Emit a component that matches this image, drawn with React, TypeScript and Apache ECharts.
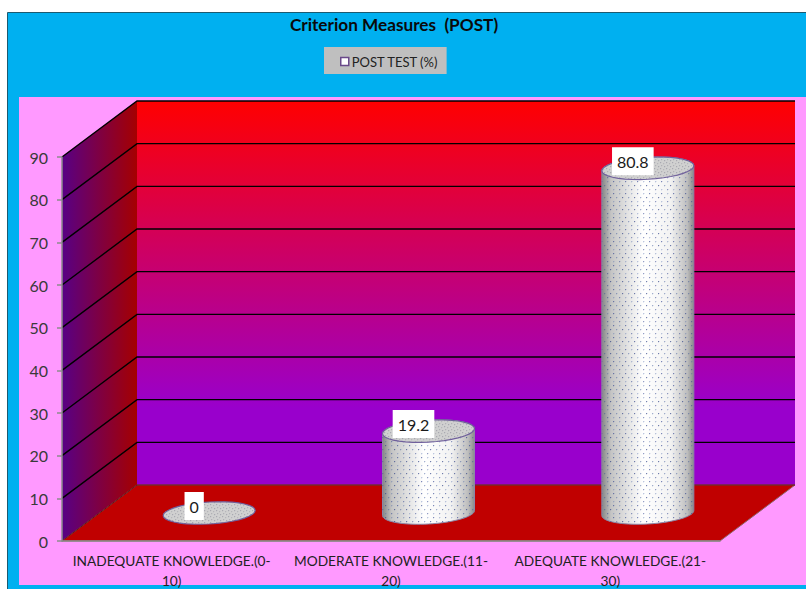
import React, { useEffect, useRef } from "react";
import * as echarts from "echarts";

const categories = [
  "INADEQUATE KNOWLEDGE.(0-\n10)",
  "MODERATE KNOWLEDGE.(11-\n20)",
  "ADEQUATE KNOWLEDGE.(21-\n30)",
];
const postTest = [0, 19.2, 80.8];
const valueTicks = [0, 10, 20, 30, 40, 50, 60, 70, 80, 90];

const FONT = "Lato";
// Oblique offset from the front plane to the back wall.
const DEPTH_X = 75;
const DEPTH_Y = 56;
const RX = 46;
const RY = 11;

// Repeating tile of small staggered dots.
function dotTile(size: number, dots: [number, number, string][]) {
  const c = document.createElement("canvas");
  c.width = size;
  c.height = size;
  const g = c.getContext("2d")!;
  dots.forEach(([x, y, col]) => {
    g.fillStyle = col;
    g.fillRect(x, y, 1, 1);
    g.fillStyle = col.replace(/[\d.]+\)$/, "0.12)");
    g.fillRect(x + 1, y, 1, 1);
    g.fillRect(x, y + 1, 1, 1);
  });
  return c;
}

function ellipsePoints(cx: number, cy: number, from: number, to: number) {
  const pts: number[][] = [];
  for (let i = 0; i <= 36; i++) {
    const a = from + ((to - from) * i) / 36;
    const x = RX * Math.cos(a);
    const y = RY * Math.sin(a);
    // slight tilt, the ellipse rises towards its right end
    pts.push([cx + x, cy + y - x * 0.055]);
  }
  return pts;
}

export default function App() {
  const ref = useRef<HTMLDivElement>(null);

  useEffect(() => {
    const chart = echarts.init(ref.current!, undefined, { renderer: "svg" });

    const bodyTile = dotTile(12, [
      [1, 1, "rgba(40,60,140,0.6)"],
      [7, 1, "rgba(60,90,160,0.35)"],
      [4, 5, "rgba(50,80,150,0.45)"],
      [10, 5, "rgba(40,60,130,0.65)"],
      [1, 9, "rgba(70,100,170,0.35)"],
      [7, 9, "rgba(40,60,140,0.5)"],
    ]);
    const capTile = dotTile(6, [
      [0, 0, "rgba(130,130,145,0.5)"],
      [3, 1, "rgba(150,150,160,0.45)"],
      [1, 3, "rgba(140,140,150,0.45)"],
      [4, 4, "rgba(130,130,145,0.5)"],
    ]);

    const renderRoom = (params: any, api: any) => {
      const cs = params.coordSys;
      const left = cs.x;
      const right = cs.x + cs.width;
      const yBase = api.coord([0, 0])[1];
      const yTop = api.coord([0, valueTicks[valueTicks.length - 1]])[1];
      const children: any[] = [
        {
          type: "polygon",
          shape: {
            points: [
              [left + DEPTH_X, yTop - DEPTH_Y],
              [right + DEPTH_X, yTop - DEPTH_Y],
              [right + DEPTH_X, yBase - DEPTH_Y],
              [left + DEPTH_X, yBase - DEPTH_Y],
            ],
          },
          style: {
            fill: new echarts.graphic.LinearGradient(0, 0, 0, 1, [
              { offset: 0, color: "#FF0000" },
              { offset: 0.8, color: "#9900CC" },
              { offset: 1, color: "#9900CC" },
            ]),
          },
        },
        {
          type: "polygon",
          shape: {
            points: [
              [left, yTop],
              [left + DEPTH_X, yTop - DEPTH_Y],
              [left + DEPTH_X, yBase - DEPTH_Y],
              [left, yBase],
            ],
          },
          style: {
            fill: new echarts.graphic.LinearGradient(0, 0, 1, 0, [
              { offset: 0, color: "#580085" },
              { offset: 1, color: "#A50000" },
            ]),
          },
        },
        {
          type: "polygon",
          shape: {
            points: [
              [left, yBase],
              [left + DEPTH_X, yBase - DEPTH_Y],
              [right + DEPTH_X, yBase - DEPTH_Y],
              [right, yBase],
            ],
          },
          style: { fill: "#C00000", stroke: "#8a6a6a", lineWidth: 1 },
        },
      ];
      valueTicks.forEach((v) => {
        const y = api.coord([0, v])[1];
        children.push({
          type: "polyline",
          shape: {
            points: [
              [left, y],
              [left + DEPTH_X, y - DEPTH_Y],
              [right + DEPTH_X, y - DEPTH_Y],
            ],
          },
          style: {
            fill: "none",
            stroke: v === 0 ? "#5a0000" : "#000000",
            lineWidth: v === 0 ? 0.8 : 1.4,
          },
        });
      });
      return { type: "group", children };
    };

    const renderCylinder = (_params: any, api: any) => {
      const value = api.value(1);
      const base = api.coord([api.value(0), 0]);
      const top = api.coord([api.value(0), value]);
      const cx = base[0] + DEPTH_X / 2;
      const by = base[1] - DEPTH_Y / 2;
      const ty = top[1] - DEPTH_Y / 2;
      const children: any[] = [];
      if (value > 0) {
        const outline = [
          ...ellipsePoints(cx, ty, Math.PI, 2 * Math.PI),
          ...ellipsePoints(cx, by, 0, Math.PI),
        ];
        children.push({
          type: "polygon",
          shape: { points: outline },
          style: {
            fill: new echarts.graphic.LinearGradient(0, 0, 1, 0, [
              { offset: 0, color: "#858585" },
              { offset: 0.1, color: "#c4c4c4" },
              { offset: 0.45, color: "#ffffff" },
              { offset: 0.75, color: "#f2f2f2" },
              { offset: 0.93, color: "#bdbdbd" },
              { offset: 1, color: "#8a8a8a" },
            ]),
            stroke: "#8a87a8",
            lineWidth: 1,
          },
        });
        children.push({
          type: "polygon",
          shape: { points: outline },
          style: {
            fill: { image: bodyTile, repeat: "repeat", imageWidth: 12, imageHeight: 12 },
          },
        });
      }
      const cap = ellipsePoints(cx, ty, 0, 2 * Math.PI);
      children.push({
        type: "polygon",
        shape: { points: cap },
        style: { fill: "#d0d0d0", stroke: "#6f5f9c", lineWidth: 1.2 },
      });
      children.push({
        type: "polygon",
        shape: { points: cap },
        style: {
          fill: { image: capTile, repeat: "repeat", imageWidth: 6, imageHeight: 6 },
        },
      });
      children.push({
        type: "text",
        x: cx - 15,
        y: ty - 7,
        style: {
          text: String(value),
          fill: "#1a1a1a",
          font: `16px ${FONT}`,
          align: "center",
          verticalAlign: "middle",
          backgroundColor: "#ffffff",
          padding: [6, 5],
        },
      });
      return { type: "group", children };
    };

    chart.setOption({
      animation: false,
      textStyle: { fontFamily: FONT },
      title: {
        text: "Criterion Measures  (POST)",
        left: 389,
        top: 11,
        textAlign: "center",
        textStyle: { fontFamily: FONT, fontSize: 17.2, fontWeight: "bold", color: "#0a0a0a" },
      },
      legend: {
        data: [{ name: "POST TEST (%)", icon: "rect" }],
        left: 324,
        top: 47,
        padding: [8, 8, 6, 16],
        backgroundColor: "#BFBFBF",
        itemWidth: 8,
        itemHeight: 8,
        itemGap: 0,
        selectedMode: false,
        itemStyle: { color: "#ffffff", borderColor: "#6a4a8a", borderWidth: 1.5 },
        textStyle: { fontFamily: FONT, fontSize: 13, color: "#222222", padding: [0, 0, 0, -2] },
      },
      graphic: [
        {
          type: "rect",
          z: -10,
          shape: { x: 7.5, y: 12.5, width: 810, height: 590 },
          style: { fill: "#00B0F0", stroke: "#1c5a70", lineWidth: 1 },
        },
        {
          type: "rect",
          z: -9,
          shape: { x: 19, y: 97, width: 800, height: 488 },
          style: { fill: "#FF99FF" },
        },
      ],
      grid: { left: 62, top: 157, width: 658, height: 384, outerBoundsMode: "none" },
      xAxis: {
        type: "category",
        data: categories,
        z: 6,
        axisLine: { lineStyle: { color: "#8c8c8c", width: 1.5 } },
        axisTick: { length: 5, lineStyle: { color: "#8c8c8c", width: 1.5 } },
        axisLabel: {
          interval: 0,
          margin: 9,
          fontFamily: FONT,
          fontSize: 13.7,
          lineHeight: 20,
          color: "#222222",
        },
      },
      yAxis: {
        type: "value",
        min: 0,
        max: 90,
        interval: 10,
        z: 6,
        axisLine: { show: true, lineStyle: { color: "#8c8c8c", width: 1.5 } },
        axisTick: { show: true, length: 5, lineStyle: { color: "#8c8c8c", width: 1.5 } },
        splitLine: { show: false },
        axisLabel: {
          margin: 14,
          fontFamily: FONT,
          fontSize: 16,
          color: "#3a3a3a",
        },
      },
      series: [
        {
          type: "custom",
          name: "room",
          z: 2,
          silent: true,
          clip: false,
          data: [[0, 0]],
          encode: { x: 0, y: 1 },
          renderItem: renderRoom,
        },
        {
          type: "custom",
          name: "POST TEST (%)",
          z: 3,
          clip: false,
          data: postTest.map((v, i) => [i, v]),
          encode: { x: 0, y: 1 },
          renderItem: renderCylinder,
        },
      ],
    });

    return () => chart.dispose();
  }, []);

  return (
    <div
      ref={ref}
      style={{ position: "fixed", left: 0, top: 0, width: 806, height: 589, background: "#ffffff" }}
    />
  );
}
